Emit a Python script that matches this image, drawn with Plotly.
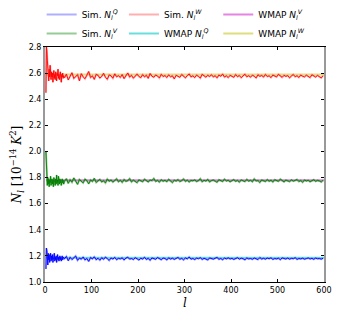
import plotly.graph_objects as go

# Simulated noise spectra, l = 2..40 (step 1) then l = 42..598 (step 4)
l_early = list(range(2, 41))
l_late = list(range(42, 600, 4))

simW_early = [2.45, 2.80, 2.77, 2.70, 2.62, 2.58, 2.54, 2.63, 2.57, 2.66, 2.59, 2.55, 2.61, 2.57, 2.60, 2.53,
              2.58, 2.62, 2.56, 2.59, 2.55, 2.61, 2.57, 2.54, 2.60, 2.58, 2.63, 2.56, 2.59, 2.55, 2.58, 2.61,
              2.57, 2.53, 2.59, 2.57, 2.60, 2.56, 2.58]
simW_late = [2.565, 2.592, 2.548, 2.581, 2.603, 2.559, 2.574, 2.588, 2.541, 2.596,
             2.571, 2.557, 2.584, 2.612, 2.566, 2.579, 2.552, 2.590, 2.583, 2.562,
             2.575, 2.598, 2.568, 2.553, 2.586, 2.579, 2.561, 2.594, 2.572, 2.580,
             2.567, 2.589, 2.558, 2.576, 2.601, 2.570, 2.583, 2.561, 2.579, 2.592,
             2.574, 2.566, 2.588, 2.571, 2.583, 2.560, 2.597, 2.576, 2.569, 2.585,
             2.578, 2.563, 2.590, 2.574, 2.581, 2.567, 2.586, 2.572, 2.579, 2.556,
             2.583, 2.575, 2.568, 2.589, 2.577, 2.564, 2.581, 2.593, 2.571, 2.579,
             2.566, 2.584, 2.575, 2.562, 2.590, 2.578, 2.569, 2.583, 2.574, 2.587,
             2.571, 2.580, 2.564, 2.585, 2.576, 2.592, 2.570, 2.579, 2.566, 2.583,
             2.577, 2.568, 2.588, 2.573, 2.581, 2.565, 2.579, 2.591, 2.572, 2.580,
             2.569, 2.584, 2.576, 2.563, 2.587, 2.575, 2.582, 2.570, 2.589, 2.574,
             2.579, 2.566, 2.585, 2.577, 2.571, 2.590, 2.576, 2.568, 2.583, 2.575,
             2.581, 2.564, 2.578, 2.589, 2.572, 2.580, 2.567, 2.585, 2.576, 2.571,
             2.584, 2.575, 2.566, 2.587, 2.578, 2.570, 2.582, 2.574, 2.563, 2.580]

simV_early = [2.00, 1.90, 1.82, 1.74, 1.80, 1.75, 1.79, 1.73, 1.78, 1.76, 1.81, 1.74, 1.77, 1.79, 1.75, 1.78,
              1.73, 1.80, 1.76, 1.77, 1.74, 1.79, 1.75, 1.82, 1.76, 1.78, 1.74, 1.81, 1.77, 1.75, 1.79, 1.76,
              1.78, 1.74, 1.77, 1.79, 1.76, 1.78, 1.75]
simV_late = [1.772, 1.791, 1.756, 1.783, 1.764, 1.797, 1.769, 1.748, 1.785, 1.773,
             1.759, 1.788, 1.776, 1.752, 1.781, 1.770, 1.794, 1.763, 1.778, 1.786,
             1.767, 1.775, 1.759, 1.789, 1.772, 1.781, 1.765, 1.777, 1.790, 1.768,
             1.779, 1.763, 1.784, 1.771, 1.776, 1.792, 1.767, 1.780, 1.773, 1.761,
             1.782, 1.775, 1.768, 1.787, 1.774, 1.766, 1.781, 1.777, 1.793, 1.770,
             1.778, 1.765, 1.783, 1.772, 1.779, 1.768, 1.786, 1.775, 1.762, 1.780,
             1.773, 1.784, 1.769, 1.777, 1.789, 1.771, 1.780, 1.766, 1.778, 1.775,
             1.782, 1.770, 1.776, 1.791, 1.768, 1.779, 1.773, 1.785, 1.767, 1.777,
             1.781, 1.772, 1.764, 1.783, 1.776, 1.770, 1.788, 1.774, 1.779, 1.767,
             1.776, 1.784, 1.771, 1.778, 1.765, 1.782, 1.775, 1.769, 1.786, 1.773,
             1.779, 1.768, 1.790, 1.774, 1.777, 1.763, 1.781, 1.775, 1.770, 1.784,
             1.772, 1.779, 1.766, 1.783, 1.776, 1.771, 1.788, 1.774, 1.767, 1.780,
             1.775, 1.769, 1.782, 1.773, 1.778, 1.785, 1.770, 1.777, 1.764, 1.781,
             1.774, 1.779, 1.768, 1.776, 1.783, 1.771, 1.778, 1.774, 1.766, 1.780]

simQ_early = [1.10, 1.26, 1.24, 1.20, 1.13, 1.22, 1.17, 1.21, 1.15, 1.19, 1.22, 1.16, 1.20, 1.17, 1.21, 1.15,
              1.19, 1.18, 1.22, 1.16, 1.19, 1.17, 1.20, 1.15, 1.18, 1.21, 1.17, 1.19, 1.16, 1.18, 1.20, 1.17,
              1.19, 1.16, 1.18, 1.20, 1.17, 1.18, 1.19]
simQ_late = [1.178, 1.196, 1.163, 1.189, 1.172, 1.185, 1.199, 1.166, 1.183, 1.175,
             1.191, 1.169, 1.180, 1.158, 1.187, 1.177, 1.193, 1.171, 1.182, 1.167,
             1.186, 1.174, 1.190, 1.179, 1.165, 1.184, 1.176, 1.188, 1.171, 1.181,
             1.177, 1.185, 1.169, 1.183, 1.190, 1.175, 1.180, 1.172, 1.186, 1.178,
             1.168, 1.182, 1.176, 1.189, 1.173, 1.181, 1.166, 1.184, 1.179, 1.174,
             1.187, 1.177, 1.171, 1.183, 1.180, 1.169, 1.185, 1.176, 1.182, 1.173,
             1.179, 1.188, 1.174, 1.181, 1.170, 1.184, 1.177, 1.191, 1.175, 1.180,
             1.172, 1.183, 1.178, 1.186, 1.173, 1.181, 1.176, 1.169, 1.184, 1.179,
             1.175, 1.182, 1.188, 1.174, 1.180, 1.171, 1.183, 1.177, 1.185, 1.176,
             1.181, 1.173, 1.179, 1.186, 1.175, 1.182, 1.178, 1.170, 1.184, 1.177,
             1.180, 1.174, 1.183, 1.179, 1.172, 1.187, 1.176, 1.181, 1.175, 1.183,
             1.178, 1.185, 1.173, 1.180, 1.177, 1.182, 1.171, 1.184, 1.179, 1.176,
             1.183, 1.175, 1.181, 1.178, 1.186, 1.173, 1.180, 1.177, 1.182, 1.175,
             1.179, 1.184, 1.176, 1.181, 1.174, 1.183, 1.178, 1.180, 1.175, 1.182]

# WMAP noise levels (flat)
l_wmap = [2, 600]
wmapQ = [1.185, 1.185]
wmapV = [1.78, 1.78]
wmapW = [2.59, 2.59]

x_ticks = [0, 100, 200, 300, 400, 500, 600]
y_ticks = [1.0, 1.2, 1.4, 1.6, 1.8, 2.0, 2.2, 2.4, 2.6, 2.8]

l_sim = l_early + l_late
simQ = simQ_early + simQ_late
simV = simV_early + simV_late
simW = simW_early + simW_late

def lab(prefix, sup):
    return f"{prefix} <i>N</i><sub><i>l</i></sub><sup><i>{sup}</i></sup>"

fig = go.Figure()

# WMAP flat levels (behind)
fig.add_trace(go.Scatter(x=l_wmap, y=wmapW, mode="lines", line=dict(color="rgba(200,200,40,0.6)", width=2),
                         name=lab("WMAP", "W"), legend="legend3", legendrank=2))
fig.add_trace(go.Scatter(x=l_wmap, y=wmapV, mode="lines", line=dict(color="rgba(220,80,220,0.7)", width=2),
                         name=lab("WMAP", "V"), legend="legend3", legendrank=1))
fig.add_trace(go.Scatter(x=l_wmap, y=wmapQ, mode="lines", line=dict(color="rgba(40,210,210,0.7)", width=2),
                         name=lab("WMAP", "Q"), legend="legend2", legendrank=2))

# light halos of simulations
fig.add_trace(go.Scatter(x=l_sim, y=simQ, mode="lines", line=dict(color="rgba(110,110,255,0.55)", width=2),
                         name=lab("Sim.", "Q"), legend="legend", legendrank=1))
fig.add_trace(go.Scatter(x=l_sim, y=simW, mode="lines", line=dict(color="rgba(255,110,110,0.55)", width=2),
                         name=lab("Sim.", "W"), legend="legend2", legendrank=1))
fig.add_trace(go.Scatter(x=l_sim, y=simV, mode="lines", line=dict(color="rgba(20,140,20,0.45)", width=2),
                         name=lab("Sim.", "V"), legend="legend", legendrank=2))

# main simulation lines
fig.add_trace(go.Scatter(x=l_sim, y=simQ, mode="lines", line=dict(color="#0000ff", width=0.9), showlegend=False))
fig.add_trace(go.Scatter(x=l_sim, y=simV, mode="lines", line=dict(color="#008000", width=0.9), showlegend=False))
fig.add_trace(go.Scatter(x=l_sim, y=simW, mode="lines", line=dict(color="#ff0000", width=0.9), showlegend=False))

leg_common = dict(orientation="v", yanchor="top", xanchor="left", itemwidth=30,
                  font=dict(size=9), tracegroupgap=0, bgcolor="rgba(0,0,0,0)", y=1.2)

fig.update_layout(
    width=352, height=305,
    margin=dict(l=37, r=36, t=39, b=31, autoexpand=False),
    paper_bgcolor="white", plot_bgcolor="white",
    font=dict(family="DejaVu Sans", size=8, color="black"),
    showlegend=True,
    legend=dict(x=-0.012, **leg_common),
    legend2=dict(x=0.283, **leg_common),
    legend3=dict(x=0.621, **leg_common),
    annotations=[dict(text="<i>l</i>", x=0.5, y=-0.088, xref="paper", yref="paper",
                      xanchor="center", yanchor="middle", showarrow=False,
                      font=dict(family="DejaVu Serif", size=12))],
)
fig.update_xaxes(range=[0, 600], tickvals=x_ticks, ticks="inside", ticklen=3, tickcolor="black",
                 showline=True, linecolor="black", linewidth=1, mirror="ticks", showgrid=False, zeroline=False,
                 automargin=False)
fig.update_yaxes(range=[1.0, 2.8], tickvals=y_ticks, ticktext=[f"{v:.1f}" for v in y_ticks],
                 ticks="inside", ticklen=3, tickcolor="black", automargin=False,
                 showline=True, linecolor="#999999", linewidth=2, mirror="ticks", showgrid=False, zeroline=False,
                 title=dict(text="<i>N</i><sub><i>l</i></sub> [10<sup>−14</sup> <i>K</i><sup>2</sup>]",
                            font=dict(family="DejaVu Serif", size=12), standoff=4))

fig.write_html("out.html")
